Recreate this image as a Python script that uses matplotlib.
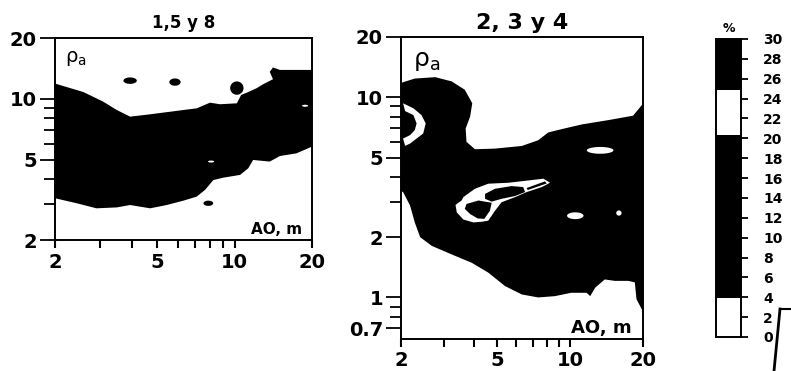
import numpy as np
import matplotlib
matplotlib.use('Agg')
import matplotlib.pyplot as plt
from matplotlib.colors import ListedColormap, BoundaryNorm
from matplotlib.cm import ScalarMappable
from matplotlib.lines import Line2D

plt.rcParams['font.family'] = ['DejaVu Sans']
plt.rcParams['font.weight'] = 'bold'

# ---- panel 1 (1,5 y 8): black band, upper and lower edge ----
p1_top_x = [2.0, 2.58, 3.08, 3.48, 3.92, 4.69, 6.31, 7.12, 8.02, 8.77, 10.2, 10.6,
            11.3, 12.2, 12.9, 14.1, 13.7, 14.1, 15.0, 16.4, 20.0]
p1_top_y = [11.9, 10.8, 9.68, 8.80, 8.16, 8.38, 8.80, 8.97, 9.57, 9.40, 9.50, 10.45,
            10.8, 11.3, 11.8, 12.5, 13.6, 14.3, 13.9, 13.9, 13.9]
p1_bot_x = [2.0, 2.43, 2.90, 3.48, 3.92, 4.69, 5.44, 6.31, 7.12, 7.67, 8.26, 9.03,
            10.5, 11.3, 11.8, 13.7, 15.0, 17.4, 20.0]
p1_bot_y = [3.22, 3.04, 2.87, 2.90, 2.98, 2.87, 2.98, 3.13, 3.28, 3.54, 3.96, 4.07,
            4.20, 4.53, 4.98, 4.89, 5.21, 5.37, 5.80]
# black islands (centre, half size in decades)
p1_isl_x = [3.92, 5.86, 10.2, 7.9]
p1_isl_y = [12.3, 12.1, 11.3, 3.04]
p1_isl_w = [0.026, 0.022, 0.026, 0.019]
p1_isl_h = [0.016, 0.018, 0.033, 0.013]
# small white specks inside the band
p1_hole_x = [8.1, 18.8]
p1_hole_y = [4.89, 9.24]

# ---- panel 2 (2, 3 y 4) ----
p2_top_x = [2.0, 2.28, 2.77, 3.24, 3.67, 3.94, 3.86, 3.70, 3.73, 4.04, 4.89, 6.31,
            7.38, 8.12, 9.22, 11.2, 14.4, 18.2, 19.8, 20.0]
p2_top_y = [11.8, 12.4, 12.6, 12.0, 10.9, 9.33, 8.0, 6.98, 5.99, 5.50, 5.54, 5.71,
            6.10, 6.67, 6.93, 7.32, 7.69, 8.09, 9.15, 9.9]
p2_bot_x = [2.0, 2.04, 2.18, 2.28, 2.40, 2.68, 3.24, 3.92, 4.59, 5.38, 6.31, 7.38,
            8.65, 10.1, 11.7, 12.1, 12.7, 13.9, 15.3, 17.4, 18.5, 18.8, 19.8, 20.0]
p2_bot_y = [3.4, 3.36, 2.88, 2.37, 2.0, 1.81, 1.64, 1.49, 1.33, 1.14, 1.035, 1.0,
            1.015, 1.055, 1.055, 1.015, 1.12, 1.23, 1.21, 1.21, 1.19, 0.98, 0.87, 0.86]
# white crescent at the left
p2_cres_x = [2.04, 2.25, 2.43, 2.53, 2.47, 2.32, 2.18, 2.08, 2.04, 2.18, 2.28, 2.32, 2.25, 2.08]
p2_cres_y = [9.33, 8.81, 8.15, 7.40, 6.59, 6.22, 5.87, 5.72, 6.22, 6.47, 6.85, 7.40, 8.15, 8.53]
# white loop in the middle with black inside
p2_loop_x = [3.62, 4.04, 4.59, 5.55, 6.71, 7.75, 8.26, 7.64, 6.61, 5.92, 5.21, 4.89,
             4.59, 4.34, 3.98, 3.62, 3.40, 3.36, 3.56]
p2_loop_y = [3.17, 3.49, 3.70, 3.74, 3.84, 3.92, 3.74, 3.56, 3.36, 3.17, 2.99, 2.71,
             2.42, 2.39, 2.37, 2.45, 2.66, 2.90, 3.05]
p2_bean_x = [4.45, 4.89, 5.73, 6.40, 6.51, 5.92, 5.21, 4.74, 4.45]
p2_bean_y = [3.29, 3.49, 3.60, 3.56, 3.36, 3.21, 3.11, 3.01, 3.11]
p2_lobe_x = [3.73, 4.18, 4.74, 4.66, 4.42, 4.15, 3.86, 3.67]
p2_lobe_y = [2.93, 3.05, 2.97, 2.71, 2.47, 2.48, 2.61, 2.77]
p2_bar_x = [6.61, 7.87, 8.00, 6.68]
p2_bar_y = [3.52, 3.80, 3.71, 3.44]
# white islands
p2_isl_x = [13.3, 10.5, 15.9]
p2_isl_y = [5.43, 2.56, 2.64]
p2_isl_w = [0.055, 0.034, 0.011]
p2_isl_h = [0.017, 0.017, 0.013]

# colour scale
cb_levels = [0, 3.9, 20.3, 24.9, 30]
cb_colors = ['white', 'black', 'white', 'black']
cb_ticks = list(range(0, 31, 2))


def blob(x, y, w, h):
    t = np.linspace(0, 2 * np.pi, 60)
    return x * 10 ** (w * np.cos(t)), y * 10 ** (h * np.sin(t))


def style(ax, lab_x, lab_y, yt, ylim, fs):
    ax.set_xscale('log')
    ax.set_yscale('log')
    ax.set_xlim(2, 20)
    ax.set_ylim(*ylim)
    ax.set_xticks([2, 5, 10, 20])
    ax.set_xticklabels(lab_x)
    ax.set_yticks(yt)
    ax.set_yticklabels(lab_y)
    ax.tick_params(axis='x', which='both', direction='out', length=6, width=1.5,
                   labelsize=fs, pad=3)
    ax.tick_params(axis='y', which='major', direction='out', length=11, width=1.3,
                   labelsize=fs, pad=2)
    ax.tick_params(axis='y', which='minor', direction='out', length=8, width=1.3)
    ax.yaxis.set_minor_formatter(plt.NullFormatter())
    ax.xaxis.set_minor_formatter(plt.NullFormatter())
    for s in ax.spines.values():
        s.set_linewidth(1.4)


fig = plt.figure(figsize=(7.91, 3.71), dpi=100)

ax1 = fig.add_axes([55/791, 131/371, 257/791, 202/371])
ax1.fill(p1_top_x + p1_bot_x[::-1], p1_top_y + p1_bot_y[::-1], color='black', lw=0)
for x, y, w, h in zip(p1_isl_x, p1_isl_y, p1_isl_w, p1_isl_h):
    ax1.fill(*blob(x, y, w, h), color='black', lw=0)
for x, y in zip(p1_hole_x, p1_hole_y):
    ax1.fill(*blob(x, y, 0.012, 0.005), color='white', lw=0)
style(ax1, ['2', '5', '10', '20'], ['2', '5', '10', '20'], [2, 5, 10, 20], (2, 20), 14)
ax1.set_title('1,5 y 8', fontsize=12, fontweight='bold', pad=7)
ax1.text(0.04, 0.88, 'ρ$_{\\mathregular{a}}$', transform=ax1.transAxes, fontsize=14,
         fontweight='normal', va='baseline')
ax1.text(0.96, 0.03, 'AO, m', transform=ax1.transAxes, fontsize=11, ha='right',
         va='baseline')

ax2 = fig.add_axes([401/791, 32/371, 242/791, 302/371])
ax2.fill(p2_top_x + p2_bot_x[::-1], p2_top_y + p2_bot_y[::-1], color='black', lw=0)
ax2.fill(p2_cres_x, p2_cres_y, color='white', lw=0)
ax2.fill(p2_loop_x, p2_loop_y, color='white', lw=0)
ax2.fill(p2_bean_x, p2_bean_y, color='black', lw=0)
ax2.fill(p2_lobe_x, p2_lobe_y, color='black', lw=0)
ax2.fill(p2_bar_x, p2_bar_y, color='black', lw=0)
for x, y, w, h in zip(p2_isl_x, p2_isl_y, p2_isl_w, p2_isl_h):
    ax2.fill(*blob(x, y, w, h), color='white', lw=0)
style(ax2, ['2', '5', '10', '20'], ['0.7', '1', '2', '5', '10', '20'],
      [0.7, 1, 2, 5, 10, 20], (0.62, 20), 14)
ax2.set_title('2, 3 y 4', fontsize=16, fontweight='bold', pad=6)
ax2.text(0.05, 0.905, 'ρ$_{\\mathregular{a}}$', transform=ax2.transAxes, fontsize=18,
         fontweight='normal', va='baseline')
ax2.text(0.955, 0.02, 'AO, m', transform=ax2.transAxes, fontsize=13, ha='right',
         va='baseline')

# colour bar
cax = fig.add_axes([716/791, 34/371, 25/791, 298/371])
cmap = ListedColormap(cb_colors)
norm = BoundaryNorm(cb_levels, cmap.N)
cb = fig.colorbar(ScalarMappable(norm=norm, cmap=cmap), cax=cax, ticks=cb_ticks,
                  spacing='proportional')
cb.ax.minorticks_off()
cb.ax.set_yticklabels([str(t) for t in cb_ticks])
cb.ax.tick_params(length=5, width=1.3, labelsize=10, pad=11)
cb.outline.set_linewidth(1.4)
cax.set_title('%', fontsize=9, fontweight='bold', pad=5)

# stray bracket at the lower right of the scan
fig.add_artist(Line2D([780/791, 774/791], [1 - 309/371, 0.0], color='black', lw=2))
fig.add_artist(Line2D([780/791, 790/791], [1 - 309/371, 1 - 309/371], color='black', lw=1.5))

fig.savefig('out.png', dpi=100)
